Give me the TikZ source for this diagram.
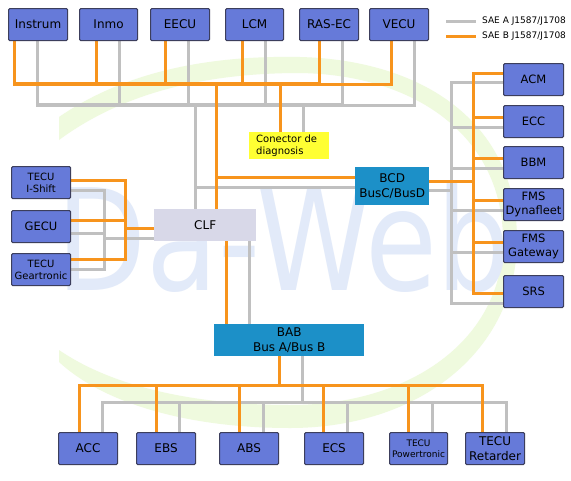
\documentclass[tikz,border=0pt]{standalone}
\usepackage{fontspec}
\setmainfont{DejaVu Sans}
\usetikzlibrary{calc}
\definecolor{boxblue}{RGB}{102,122,217}
\definecolor{boxline}{RGB}{60,62,92}
\definecolor{busblue}{RGB}{28,144,200}
\definecolor{clfgray}{RGB}{216,216,232}
\definecolor{diagyel}{RGB}{255,255,51}
\definecolor{busor}{RGB}{247,148,29}
\definecolor{busgr}{RGB}{192,192,192}
\definecolor{wmblue}{RGB}{226,234,249}
\definecolor{wmgreen}{RGB}{239,250,222}
\pgfdeclarelayer{wm}
\pgfdeclarelayer{bg}
\pgfsetlayers{wm,bg,main}
\newcommand{\fs}[1]{\fontsize{#1}{\fpeval{1.2*#1}}\selectfont}
\begin{document}
\begin{tikzpicture}[x=1pt,y=-1pt,
  ecu/.style={draw=boxline, line width=1.1pt, fill=boxblue, rounded corners=1.2pt, anchor=north west, inner sep=0pt,
    minimum width=59pt, minimum height=32pt, align=center, font=\fs{12}},
  busbox/.style={fill=busblue, anchor=north west, inner sep=0pt, align=center, font=\fs{12}},
  ob/.style={draw=busor, line width=3pt},
  gb/.style={draw=busgr, line width=3pt},
  legtext/.style={anchor=west, inner sep=0pt, font=\fs{9}}
]
\useasboundingbox (0,0) rectangle (571,480);

% ---------- watermark ----------
\begin{pgfonlayer}{wm}
\fill[white] (0,0) rectangle (571,480);
\fill[wmgreen]
  (59,117) .. controls (120,75) and (200,55) .. (300,57)
  .. controls (420,60) and (517,120) .. (517,240)
  .. controls (517,350) and (420,428) .. (290,428)
  .. controls (180,428) and (100,400) .. (59,362)
  -- (59,350) .. controls (110,385) and (190,405) .. (290,405)
  .. controls (410,405) and (503,340) .. (503,240)
  .. controls (503,140) and (420,75) .. (300,73)
  .. controls (200,73) and (120,95) .. (59,140) -- cycle;
\node[anchor=base, inner sep=0pt, text=wmblue, font=\fontsize{141}{141}\selectfont] (wm) at (284,290) {\scalebox{0.83}[1]{Da-Web}};
\end{pgfonlayer}

% ---------- top row ----------
\node[ecu] (instrum) at (8,8)   {Instrum};
\node[ecu, minimum width=58pt] (inmo) at (79,8) {Inmo};
\node[ecu] (eecu)    at (150,8) {EECU};
\node[ecu, minimum width=58pt] (lcm) at (225,8) {LCM};
\node[ecu] (rasec)   at (299,8) {RAS-EC};
\node[ecu] (vecu)    at (369,8) {VECU};

% ---------- legend ----------
\coordinate (lgA1) at (446,21); \coordinate (lgA2) at (476,21);
\coordinate (lgB1) at (446,36); \coordinate (lgB2) at (476,36);
\node[legtext] (legA) at (482,21) {SAE A J1587/J1708};
\node[legtext] (legB) at (482,36) {SAE B J1587/J1708};

% ---------- centre ----------
\node[fill=diagyel, anchor=north west, inner sep=0pt, minimum width=80pt, minimum height=27pt] (diag) at (249,132) {};
\node[anchor=west, inner sep=0pt, align=left, font=\fs{10}] (diagt) at ($(diag.west)+(7,0)$) {Conector de\\diagnosis};
\node[busbox, minimum width=74pt, minimum height=38pt] (bcd) at (355,167) {BCD\\BusC/BusD};
\node[fill=clfgray, anchor=north west, inner sep=0pt, minimum width=102pt, minimum height=32pt, font=\fs{12}] (clf) at (154,209) {CLF};
\node[busbox, minimum width=150pt, minimum height=32pt] (bab) at (214,324) {BAB\\Bus A/Bus B};

% ---------- left group ----------
\node[ecu, font=\fs{10}] (ishift) at (11,166) {TECU\\I-Shift};
\node[ecu, font=\fs{11.5}] (gecu) at (11,210) {GECU};
\node[ecu, font=\fs{10}] (geartr) at (11,253) {TECU\\Geartronic};

% ---------- right group ----------
\node[ecu, minimum width=60pt, font=\fs{11.5}] (acm)  at (503,63)  {ACM};
\node[ecu, minimum width=60pt, font=\fs{11.5}] (ecc)  at (503,105) {ECC};
\node[ecu, minimum width=60pt, font=\fs{11.5}] (bbm)  at (503,146) {BBM};
\node[ecu, minimum width=60pt, font=\fs{11.5}] (dyna) at (503,188) {FMS\\Dynafleet};
\node[ecu, minimum width=60pt, font=\fs{11.5}] (gate) at (503,230) {FMS\\Gateway};
\node[ecu, minimum width=60pt, font=\fs{11.5}] (srs)  at (503,275) {SRS};

% ---------- bottom row ----------
\node[ecu] (acc)   at (58,432)  {ACC};
\node[ecu] (ebs)   at (136,432) {EBS};
\node[ecu] (abs)   at (219,432) {ABS};
\node[ecu] (ecs)   at (304,432) {ECS};
\node[ecu, minimum width=58pt, font=\fs{9}] (power) at (389,432) {TECU\\Powertronic};
\node[ecu] (retard) at (465,432) {TECU\\Retarder};

% ---------- bus coordinates ----------
\coordinate (oT) at (14,83);
\coordinate (gT) at (37,104);
\coordinate (oTr) at (216,83);
\coordinate (gTr) at (195,104);
\coordinate (oR) at (473,73);
\coordinate (gR) at (451,82);
\coordinate (oL) at (125,180);
\coordinate (gL) at (104,190);

\begin{pgfonlayer}{bg}
% ===== gray (SAE A) =====
\draw[gb] (lgA1) -- (lgA2);
% top
\draw[gb] ($(instrum.south west)+(29,0)$) |- ($(vecu.south west)+(45,64)$) -- ($(vecu.south west)+(45,0)$);
\draw[gb] ($(inmo.south west)+(40,0)$) |- (gT);
\draw[gb] ($(eecu.south west)+(38,0)$) |- (gT);
\draw[gb] ($(lcm.south west)+(40,0)$) |- (gT);
\draw[gb] ($(rasec.south west)+(43,0)$) |- (gT);
\draw[gb] (gTr) -- (clf.north -| gTr);
\draw[gb] (diag.north -| 303,132) -- (303,104);
\draw[gb] (195,187) -- (bcd.west |- 195,187);
% right
\draw[gb] (bcd.east |- 451,190) -- (451,190);
\draw[gb] (acm.west |- gR) -- (gR) -- (451,303) -- (srs.west |- 451,303);
\draw[gb] (451,127) -- (ecc.west |- 451,127);
\draw[gb] (451,168) -- (bbm.west |- 451,168);
\draw[gb] (451,210) -- (dyna.west |- 451,210);
\draw[gb] (451,252) -- (gate.west |- 451,252);
% left
\draw[gb] (ishift.east |- gL) -- (gL) -- (104,269) -- (geartr.east |- 104,269);
\draw[gb] (gecu.east |- 104,233) -- (104,233);
\draw[gb] (104,238) -- (clf.west |- 104,238);
% CLF - BAB
\draw[gb] (clf.south -| 249,0) -- (bab.north -| 249,0);
% bottom
\draw[gb] (bab.south -| 302,0) -- (302,402);
\draw[gb] ($(acc.north west)+(44,0)$) |- ($(retard.north west)+(41,-30)$) -- ($(retard.north west)+(41,0)$);
\draw[gb] ($(ebs.north west)+(43,0)$) -- ++(0,-30);
\draw[gb] ($(abs.north west)+(44,0)$) -- ++(0,-30);
\draw[gb] ($(ecs.north west)+(43,0)$) -- ++(0,-30);
\draw[gb] ($(power.north west)+(43,0)$) -- ++(0,-30);

% ===== orange (SAE B) =====
\draw[ob] (lgB1) -- (lgB2);
% top
\draw[ob] ($(instrum.south west)+(6,0)$) |- ($(vecu.south west)+(22,43)$) -- ($(vecu.south west)+(22,0)$);
\draw[ob] ($(inmo.south west)+(17,0)$) |- (oT);
\draw[ob] ($(eecu.south west)+(15,0)$) |- (oT);
\draw[ob] ($(lcm.south west)+(17,0)$) |- (oT);
\draw[ob] ($(rasec.south west)+(20,0)$) |- (oT);
\draw[ob] (oTr) -- (clf.north -| oTr);
\draw[ob] (diag.north -| 280,132) -- (280,83);
\draw[ob] (216,177) -- (bcd.west |- 216,177);
% right
\draw[ob] (bcd.east |- 473,181) -- (473,181);
\draw[ob] (acm.west |- oR) -- (oR) -- (473,293) -- (srs.west |- 473,293);
\draw[ob] (473,117) -- (ecc.west |- 473,117);
\draw[ob] (473,158) -- (bbm.west |- 473,158);
\draw[ob] (473,200) -- (dyna.west |- 473,200);
\draw[ob] (473,242) -- (gate.west |- 473,242);
% left
\draw[ob] (ishift.east |- oL) -- (oL) -- (125,259) -- (geartr.east |- 125,259);
\draw[ob] (gecu.east |- 125,220) -- (125,220);
\draw[ob] (125,228) -- (clf.west |- 125,228);
% CLF - BAB
\draw[ob] (clf.south -| 226,0) -- (bab.north -| 226,0);
% bottom
\draw[ob] (bab.south -| 279,0) -- (279,385);
\draw[ob] ($(acc.north west)+(21,0)$) |- ($(retard.north west)+(17,-47)$) -- ($(retard.north west)+(17,0)$);
\draw[ob] ($(ebs.north west)+(20,0)$) -- ++(0,-47);
\draw[ob] ($(abs.north west)+(20,0)$) -- ++(0,-47);
\draw[ob] ($(ecs.north west)+(19,0)$) -- ++(0,-47);
\draw[ob] ($(power.north west)+(19,0)$) -- ++(0,-47);
\end{pgfonlayer}
\end{tikzpicture}
\end{document}
